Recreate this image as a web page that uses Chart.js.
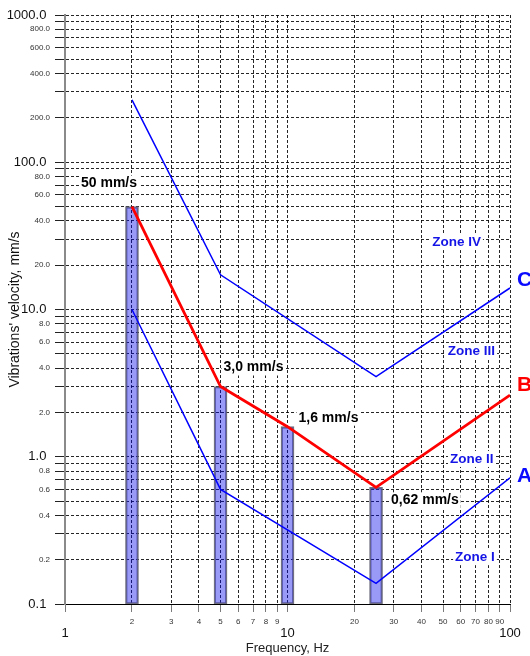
<!DOCTYPE html>
<html>
<head>
<meta charset="utf-8">
<script src="https://cdn.jsdelivr.net/npm/chart.js@4.4.1/dist/chart.umd.min.js"></script>
<style>
  body { margin: 0; background: #fff; }
  canvas { display: block; }
</style>
</head>
<body>
<canvas id="grafico" width="530" height="656"></canvas>
<script>
// boundary curves between the zones (frequency Hz -> velocity mm/s)
const freqC = [2, 5, 25, 100];
const velC  = [265, 17.2, 3.5, 14.0];
const freqB = [2, 5, 10, 25, 100];
const velB  = [50, 3.0, 1.6, 0.62, 2.62];
const freqA = [2, 5, 25, 100];
const velA  = [10, 0.6, 0.138, 0.72];

// measured values shown as bars
const barFreq = [2, 5, 10, 25];
const barVel  = [50, 3.0, 1.6, 0.62];

// zone names and where they sit (data coords)
const zoneText = ['Zone IV', 'Zone III', 'Zone II', 'Zone I'];
const zoneFreq = [57.5, 67.1, 67.3, 69.6];
const zoneVel  = [28.7, 5.23, 0.966, 0.208];

// axis ticks
const xTicks = [1, 2, 3, 4, 5, 6, 7, 8, 9, 10, 20, 30, 40, 50, 60, 70, 80, 90, 100];
const xMajor = [1, 10, 100];
const yTicks = [0.1, 0.2, 0.3, 0.4, 0.5, 0.6, 0.7, 0.8, 0.9,
                1, 2, 3, 4, 5, 6, 7, 8, 9,
                10, 20, 30, 40, 50, 60, 70, 80, 90,
                100, 200, 300, 400, 500, 600, 700, 800, 900, 1000];
const yLabeled = [0.1, 0.2, 0.4, 0.6, 0.8, 1, 2, 4, 6, 8, 10, 20, 40, 60, 80,
                  100, 200, 400, 600, 800, 1000];
const yMajor = [0.1, 1, 10, 100, 1000];

const FONT = '"Liberation Sans", Arial, sans-serif';
const pontos = (fs, vs) => fs.map((f, i) => ({ x: f, y: vs[i] }));
const virgula = v => (v >= 10 ? String(v) : v >= 1 ? v.toFixed(1) : v.toFixed(2)).replace('.', ',');

// offsets (px) of the value text from the top of each bar
const barLabelShift = [[-51, -23], [3, -19], [11, -9], [15, 13]];

// texto com fundo branco, para a grade não passar por cima
function textoComFundo(ctx, txt, x, y, align) {
  const w = ctx.measureText(txt).width;
  const x0 = align === 'center' ? x - w / 2 : x;
  ctx.save();
  ctx.fillStyle = '#fff';
  ctx.fillRect(x0 - 2, y - 8, w + 4, 16);
  ctx.restore();
  ctx.fillText(txt, x, y);
}

const anotacoes = {
  id: 'anotacoes',
  afterDatasetsDraw(chart) {
    const { ctx, scales: { x, y } } = chart;
    ctx.save();
    ctx.textBaseline = 'middle';
    ctx.textAlign = 'left';

    // valores das barras
    ctx.font = 'bold 14px ' + FONT;
    ctx.fillStyle = '#000';
    barFreq.forEach((f, i) => {
      const [dx, dy] = barLabelShift[i];
      textoComFundo(ctx, virgula(barVel[i]) + ' mm/s', x.getPixelForValue(f) + dx, y.getPixelForValue(barVel[i]) + dy, 'left');
    });

    // nomes das zonas
    ctx.textAlign = 'center';
    ctx.font = 'bold 13.5px ' + FONT;
    ctx.fillStyle = '#1414e6';
    zoneText.forEach((t, i) => {
      textoComFundo(ctx, t, x.getPixelForValue(zoneFreq[i]), y.getPixelForValue(zoneVel[i]), 'center');
    });

    // letras das curvas no fim de cada linha
    ctx.textAlign = 'left';
    ctx.font = 'bold 21px ' + FONT;
    [['C', freqC, velC, '#0a0aff', -8], ['B', freqB, velB, '#ff0000', -10], ['A', freqA, velA, '#0a0aff', -2]]
      .forEach(([letra, fs, vs, cor, dy]) => {
        const n = fs.length - 1;
        ctx.fillStyle = cor;
        ctx.fillText(letra, x.getPixelForValue(fs[n]) + 7, y.getPixelForValue(vs[n]) + dy);
      });
    ctx.restore();
  }
};

new Chart(document.getElementById('grafico'), {
  type: 'bar',
  data: {
    datasets: [
      { type: 'line', data: pontos(freqC, velC), borderColor: '#0000ff', borderWidth: 1.5, pointRadius: 0, tension: 0, order: 1 },
      { type: 'line', data: pontos(freqB, velB), borderColor: '#ff0000', borderWidth: 2.8, pointRadius: 0, tension: 0, order: 1 },
      { type: 'line', data: pontos(freqA, velA), borderColor: '#0000ff', borderWidth: 1.5, pointRadius: 0, tension: 0, order: 1 },
      {
        type: 'bar',
        data: barFreq.map((f, i) => ({ x: f, y: [0.1, barVel[i]] })),
        backgroundColor: 'rgba(0, 0, 235, 0.4)',
        borderColor: 'rgba(95, 95, 115, 0.9)',
        borderWidth: 1.5,
        borderSkipped: false,
        barThickness: 13,
        order: 5
      }
    ]
  },
  options: {
    responsive: false,
    animation: false,
    layout: { padding: { top: 15, right: 20, left: 0, bottom: 0 } },
    plugins: { legend: { display: false }, tooltip: { enabled: false } },
    scales: {
      x: {
        type: 'logarithmic',
        min: 1,
        max: 100,
        offset: false,
        afterBuildTicks: s => { s.ticks = xTicks.map(v => ({ value: v })); },
        afterFit: s => { s.height = 52; },
        grid: { offset: false, color: 'rgba(0,0,0,0.85)', tickColor: '#7a7a7a', tickLength: 8, lineWidth: 1 },
        border: { color: '#000', width: 1, dash: [3, 2] },
        ticks: {
          autoSkip: false,
          maxRotation: 0,
          padding: 5,
          color: ctx => xMajor.includes(ctx.tick.value) ? '#111' : '#333',
          font: ctx => xMajor.includes(ctx.tick.value)
            ? { family: FONT, size: 13, lineHeight: 2.45 }
            : { family: FONT, size: 8, lineHeight: 1.2 },
          callback: v => String(v)
        },
        title: { display: true, text: 'Frequency, Hz', color: '#222', font: { family: FONT, size: 13 }, padding: { top: 0, bottom: 0 } }
      },
      y: {
        type: 'logarithmic',
        min: 0.1,
        max: 1000,
        afterBuildTicks: s => { s.ticks = yTicks.map(v => ({ value: v })); },
        afterFit: s => { s.width = 65; },
        grid: { offset: false, color: 'rgba(0,0,0,0.85)', tickColor: '#222', tickLength: 10, lineWidth: 1 },
        border: { color: '#8a8a8a', width: 2, dash: [3, 2] },
        ticks: {
          autoSkip: false,
          padding: 5,
          color: ctx => yMajor.includes(ctx.tick.value) ? '#111' : '#333',
          font: ctx => yMajor.includes(ctx.tick.value)
            ? { family: FONT, size: 13 }
            : { family: FONT, size: 8 },
          callback: v => {
            if (!yLabeled.includes(v)) return '';
            return v.toFixed(1) + (yMajor.includes(v) ? ' ' : '');
          }
        },
        title: { display: true, text: "Vibrations' velocity, mm/s", color: '#111', font: { family: FONT, size: 14 }, padding: { top: 7, bottom: 0 } }
      }
    }
  },
  plugins: [anotacoes]
});
</script>
</body>
</html>
